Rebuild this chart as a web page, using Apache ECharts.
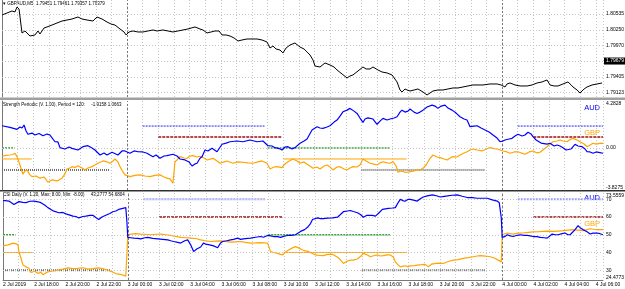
<!DOCTYPE html>
<html><head><meta charset="utf-8">
<script src="https://cdn.jsdelivr.net/npm/echarts@6/dist/echarts.min.js"></script>
<style>html,body{margin:0;padding:0;background:#fff}#c{width:625px;height:289px}</style>
</head><body><div id="c"></div>
<script>
// ---------- DATA ----------
const timeLabels = ['2 Jul 2019','2 Jul 18:00','2 Jul 20:00','2 Jul 22:00','3 Jul 00:00','3 Jul 02:00','3 Jul 04:00','3 Jul 06:00','3 Jul 08:00','3 Jul 10:00','3 Jul 12:00','3 Jul 14:00','3 Jul 16:00','3 Jul 18:00','3 Jul 20:00','3 Jul 22:00','4 Jul 00:00','4 Jul 02:00','4 Jul 04:00','4 Jul 06:00'];
const daySeparators = [8, 32];
const priceTicks = [1.80535, 1.80250, 1.79970, 1.79690, 1.79405, 1.79123];
const priceTickLabels = ['1.80535','1.80250','1.79970','','1.79405','1.79123'];
const bidPrice = 1.79690;
const bidLabel = '1.79679';
const strengthTicks = [4.2828, 0, -3.8275];
const strengthTickLabels = ['4.2828','0.00','-3.8275'];
const csiTicks = [73.5559, 70, 60, 50, 40, 30, 24.4773];
const csiTickLabels = ['73.5559','70','60','50','40','30','24.4773'];
const levelValsStrength = [2, 1, 0, -1, -2];
const levelValsCsi = [70, 60, 50, 40, 30];
const levelSegments = [[0,0.8,2],[0,1.9,3],[0,6.9,4],[9,16.8,0],[10,17.9,1],[17,24.8,2],[18,25.9,3],[23,30.9,4],[33,38.46,0],[34,38.46,1]];

const price = [[0,1.80517],[0.32,1.80553],[0.64,1.80589],[0.83,1.80571],[0.96,1.80661],[1.09,1.80625],[1.28,1.80194],[1.47,1.80230],[1.79,1.80140],[2.11,1.80158],[2.30,1.80230],[2.43,1.80176],[2.69,1.80284],[2.88,1.80302],[3.20,1.80337],[3.52,1.80373],[3.84,1.80409],[4.16,1.80427],[4.48,1.80445],[4.86,1.80481],[5.12,1.80445],[5.44,1.80427],[5.82,1.80409],[6.08,1.80481],[6.40,1.80445],[6.72,1.80391],[6.98,1.80355],[7.23,1.80337],[7.55,1.80266],[7.81,1.80212],[7.94,1.80158],[8.13,1.80212],[8.38,1.80230],[8.70,1.80212],[9.02,1.80212],[9.34,1.80230],[9.66,1.80248],[9.92,1.80230],[10.30,1.80248],[10.62,1.80230],[10.94,1.80212],[11.26,1.80230],[11.58,1.80248],[11.90,1.80266],[12.35,1.80302],[12.67,1.80266],[12.86,1.80248],[13.12,1.80194],[13.38,1.80212],[13.63,1.80230],[13.89,1.80230],[14.08,1.80158],[14.34,1.80158],[14.59,1.80140],[14.85,1.80104],[15.10,1.80050],[15.36,1.80068],[15.68,1.80086],[16.00,1.80086],[16.32,1.80086],[16.64,1.80068],[16.96,1.80032],[17.15,1.79924],[17.34,1.79960],[17.54,1.79906],[17.79,1.79888],[17.98,1.79835],[18.18,1.79924],[18.43,1.79978],[18.75,1.80014],[19.07,1.79942],[19.33,1.79906],[19.52,1.79853],[19.71,1.79799],[19.90,1.79709],[20.03,1.79601],[20.35,1.79583],[20.67,1.79655],[20.99,1.79619],[21.25,1.79583],[21.44,1.79529],[21.76,1.79457],[22.08,1.79386],[22.27,1.79422],[22.46,1.79440],[22.78,1.79511],[23.10,1.79583],[23.30,1.79547],[23.55,1.79547],[23.74,1.79583],[24.06,1.79529],[24.32,1.79493],[24.64,1.79476],[24.96,1.79440],[25.28,1.79314],[25.47,1.79170],[25.60,1.79134],[25.79,1.79188],[25.92,1.79170],[26.11,1.79152],[26.37,1.79170],[26.62,1.79188],[26.94,1.79134],[27.20,1.79080],[27.39,1.79116],[27.58,1.79152],[27.90,1.79170],[28.22,1.79170],[28.54,1.79188],[28.86,1.79206],[29.18,1.79206],[29.50,1.79224],[29.82,1.79242],[30.14,1.79260],[30.46,1.79260],[30.78,1.79260],[31.23,1.79278],[31.68,1.79278],[31.94,1.79260],[32.19,1.79224],[32.32,1.79278],[32.51,1.79296],[32.83,1.79260],[33.15,1.79242],[33.60,1.79242],[33.92,1.79260],[34.24,1.79296],[34.56,1.79314],[34.88,1.79350],[35.07,1.79260],[35.33,1.79242],[35.58,1.79242],[35.90,1.79278],[36.22,1.79314],[36.42,1.79260],[36.54,1.79224],[36.80,1.79170],[36.99,1.79116],[37.25,1.79188],[37.44,1.79224],[37.76,1.79260],[38.08,1.79278],[38.40,1.79296]];

const strengthAUD = [[0,2.03],[0.51,1.88],[0.96,1.70],[1.15,1.91],[1.28,1.82],[1.41,2.09],[1.54,1.55],[1.66,1.25],[1.92,1.36],[2.11,1.18],[2.37,1.32],[2.62,1.12],[2.88,1.27],[3.07,1.18],[3.39,0.57],[3.58,0.55],[3.71,0.03],[4.03,-0.09],[4.29,0.09],[4.48,-0.03],[4.86,-0.18],[5.18,0.12],[5.50,0.21],[5.76,0.00],[5.95,-0.18],[6.27,-0.64],[6.53,-0.45],[6.72,-0.64],[7.04,-0.39],[7.42,-0.64],[7.68,-0.27],[7.87,-0.27],[8.19,-0.48],[8.45,-0.27],[8.70,-0.34],[9.02,-0.36],[9.28,-0.48],[9.66,-0.79],[9.86,-0.64],[10.11,-0.94],[10.37,-0.73],[10.56,-0.70],[10.94,-0.57],[11.20,-0.73],[11.39,-1.00],[11.71,-1.09],[11.97,-1.27],[12.16,-1.64],[12.35,-1.45],[12.48,-1.39],[12.67,-0.94],[12.80,-0.79],[12.99,-0.18],[13.18,-0.27],[13.44,-0.03],[13.76,-0.34],[14.08,0.34],[14.34,0.45],[14.59,0.57],[15.04,0.64],[15.42,0.57],[15.87,0.73],[16.32,0.57],[16.70,0.64],[17.02,0.21],[17.28,0.18],[17.47,0.03],[17.73,-0.05],[17.92,-0.18],[18.11,0.09],[18.30,0.12],[18.56,-0.09],[18.75,0.03],[19.07,0.43],[19.33,0.64],[19.52,0.82],[19.84,1.64],[20.16,1.94],[20.35,1.82],[20.54,1.79],[20.80,1.91],[20.99,2.03],[21.25,2.36],[21.44,2.55],[21.63,2.91],[21.82,3.30],[22.08,3.45],[22.27,3.61],[22.53,3.36],[22.72,3.15],[22.91,2.73],[23.10,2.34],[23.23,2.64],[23.42,2.75],[23.74,2.64],[24.00,2.15],[24.19,2.45],[24.38,2.70],[24.64,2.55],[24.83,2.64],[25.09,2.73],[25.28,2.85],[25.47,3.27],[25.60,3.45],[25.79,3.27],[25.98,3.36],[26.11,3.55],[26.37,3.27],[26.56,3.15],[26.75,3.27],[26.94,3.45],[27.20,3.73],[27.52,3.91],[27.71,3.82],[27.90,3.61],[28.10,3.82],[28.35,3.91],[28.54,3.64],[28.80,3.45],[29.06,3.18],[29.31,2.85],[29.57,2.64],[29.76,2.55],[29.95,1.94],[30.21,2.00],[30.40,2.03],[30.66,1.82],[30.91,1.64],[31.17,1.45],[31.42,1.18],[31.68,0.91],[31.87,0.57],[32.06,0.64],[32.19,0.73],[32.45,0.82],[32.64,0.88],[32.83,1.09],[33.02,1.25],[33.28,1.09],[33.47,1.18],[33.66,1.43],[33.86,1.27],[33.98,1.03],[34.18,0.73],[34.30,0.57],[34.50,0.45],[34.62,0.27],[34.88,0.36],[35.07,0.43],[35.33,0.18],[35.52,0.27],[35.71,0.18],[35.90,0.03],[36.10,-0.18],[36.22,-0.34],[36.42,-0.09],[36.67,0.34],[36.86,0.18],[37.12,0.12],[37.31,-0.09],[37.44,-0.34],[37.63,-0.36],[37.82,-0.48],[38.02,-0.36],[38.14,-0.34],[38.34,-0.45],[38.46,-0.48]];

const strengthGBP = [[0,-0.73],[0.26,-0.68],[0.51,-0.64],[0.70,-0.59],[0.83,-0.48],[0.96,-0.79],[1.15,-1.55],[1.34,-2.39],[1.47,-2.09],[1.60,-2.00],[1.79,-2.45],[1.92,-2.61],[2.18,-2.55],[2.43,-2.75],[2.69,-2.64],[2.94,-3.12],[3.20,-2.91],[3.52,-3.00],[3.84,-2.75],[4.03,-2.36],[4.16,-1.91],[4.35,-1.82],[4.48,-1.70],[4.67,-1.77],[4.86,-1.61],[5.12,-1.82],[5.31,-2.00],[5.50,-1.82],[5.76,-1.70],[5.95,-1.55],[6.14,-1.39],[6.46,-1.18],[6.72,-1.27],[6.91,-1.39],[7.10,-1.18],[7.23,-1.00],[7.42,-1.27],[7.55,-1.70],[7.74,-2.18],[7.87,-2.45],[8.19,-2.61],[8.51,-2.50],[8.83,-2.45],[9.15,-2.55],[9.47,-2.61],[9.79,-2.50],[10.11,-2.45],[10.37,-2.64],[10.56,-2.75],[10.75,-2.82],[10.94,-3.21],[11.07,-1.25],[11.20,-1.09],[11.39,-0.79],[11.65,-0.91],[11.84,-0.94],[12.03,-0.73],[12.22,-0.70],[12.48,-0.82],[12.67,-0.75],[12.93,-0.91],[13.12,-1.09],[13.50,-0.94],[13.76,-1.18],[13.95,-1.39],[14.21,-1.27],[14.40,-1.18],[14.78,-1.39],[15.10,-1.27],[15.42,-1.30],[15.74,-1.36],[16.06,-1.39],[16.38,-1.27],[16.64,-1.18],[16.96,-1.39],[17.15,-1.91],[17.41,-1.73],[17.60,-1.70],[17.92,-1.79],[18.11,-1.45],[18.30,-1.25],[18.62,-1.00],[18.88,-1.18],[19.07,-1.39],[19.33,-1.27],[19.52,-1.48],[19.71,-1.64],[19.90,-1.85],[20.16,-1.73],[20.35,-1.91],[20.61,-1.64],[20.80,-1.55],[20.99,-1.73],[21.18,-2.00],[21.44,-1.73],[21.63,-1.70],[21.89,-1.91],[22.08,-2.00],[22.27,-1.82],[22.46,-1.70],[22.72,-1.73],[22.91,-1.55],[23.10,-1.00],[23.30,-1.18],[23.55,-1.39],[23.74,-1.45],[24.00,-1.55],[24.19,-1.36],[24.38,-1.25],[24.64,-1.36],[24.83,-1.39],[25.02,-1.25],[25.22,-1.64],[25.34,-2.21],[25.54,-2.09],[25.66,-2.15],[25.86,-2.23],[26.11,-2.15],[26.37,-2.09],[26.56,-2.00],[26.75,-2.00],[26.94,-1.85],[27.14,-1.55],[27.39,-0.94],[27.58,-0.64],[27.84,-0.82],[28.03,-0.88],[28.29,-1.00],[28.48,-1.09],[28.67,-0.91],[28.86,-0.79],[29.12,-0.82],[29.31,-0.64],[29.57,-0.45],[29.76,-0.34],[29.95,-0.18],[30.14,-0.09],[30.40,-0.18],[30.72,-0.27],[30.98,-0.09],[31.23,0.03],[31.49,-0.05],[31.68,-0.09],[31.87,-0.18],[32.06,-0.27],[32.32,-0.36],[32.51,-0.48],[32.77,-0.36],[33.02,-0.34],[33.22,-0.45],[33.47,-0.57],[33.73,-0.36],[33.98,-0.27],[34.24,-0.45],[34.43,-0.39],[34.69,-0.09],[34.88,0.12],[35.07,0.36],[35.26,0.57],[35.52,0.64],[35.71,0.73],[35.90,0.64],[36.16,0.57],[36.35,0.77],[36.54,0.88],[36.80,0.73],[36.99,0.57],[37.25,0.36],[37.44,0.12],[37.63,0.27],[37.82,0.43],[38.02,0.36],[38.14,0.52],[38.34,0.45],[38.46,0.43]];

const csiAUD = [[0,69.4],[0.38,69.0],[0.70,67.1],[1.02,68.7],[1.28,68.3],[1.47,68.1],[1.73,68.9],[1.98,69.0],[2.24,68.6],[2.43,68.1],[2.69,66.6],[2.88,65.3],[3.07,64.3],[3.26,63.3],[3.58,62.4],[3.84,62.6],[4.03,61.8],[4.29,61.1],[4.48,60.5],[4.67,60.3],[4.86,59.5],[5.12,60.3],[5.31,60.5],[5.57,60.9],[5.76,61.0],[5.95,59.7],[6.14,58.6],[6.34,60.0],[6.59,61.0],[6.85,62.0],[7.04,63.0],[7.23,63.4],[7.42,64.3],[7.68,64.9],[7.87,65.3],[7.94,57.6],[8.00,48.5],[8.19,48.3],[8.38,48.1],[8.64,48.0],[8.83,47.7],[9.09,48.3],[9.28,48.5],[9.60,48.0],[9.92,47.7],[10.24,47.4],[10.56,47.1],[10.75,46.6],[10.94,46.2],[11.20,45.7],[11.39,45.3],[11.65,46.6],[11.84,47.1],[12.03,44.3],[12.22,40.5],[12.42,42.0],[12.67,43.1],[12.86,45.4],[12.99,44.7],[13.25,44.3],[13.50,43.7],[13.76,42.7],[13.95,45.4],[14.08,46.2],[14.34,46.6],[14.59,47.1],[14.78,47.4],[15.04,48.1],[15.23,47.4],[15.42,47.7],[15.68,48.0],[15.87,48.1],[16.19,48.6],[16.51,49.0],[16.70,48.6],[16.96,49.6],[17.15,49.4],[17.34,49.0],[17.60,48.9],[17.79,48.5],[17.98,49.1],[18.24,49.6],[18.50,49.7],[18.75,50.0],[19.07,51.9],[19.33,52.9],[19.52,54.2],[19.71,56.3],[19.84,58.6],[20.16,59.5],[20.35,59.1],[20.54,59.1],[20.80,59.4],[21.12,59.5],[21.44,59.9],[21.63,61.4],[21.82,63.0],[22.08,63.4],[22.27,63.7],[22.46,63.1],[22.72,62.4],[22.91,61.4],[23.10,59.9],[23.30,60.9],[23.42,61.4],[23.68,60.9],[23.87,60.5],[24.06,62.0],[24.32,64.3],[24.51,64.6],[24.70,64.9],[24.96,65.1],[25.15,65.3],[25.34,68.3],[25.47,70.0],[25.66,69.1],[25.79,69.0],[25.98,70.0],[26.11,70.0],[26.37,69.4],[26.56,69.0],[26.75,70.3],[26.94,71.3],[27.20,71.9],[27.52,72.5],[27.78,72.0],[28.03,71.3],[28.29,71.7],[28.48,71.9],[28.80,72.3],[29.12,72.5],[29.44,71.7],[29.76,71.0],[30.08,70.9],[30.40,70.6],[30.72,70.6],[31.04,70.6],[31.36,69.7],[31.68,69.0],[31.81,68.1],[31.94,59.5],[32.00,48.5],[32.19,49.1],[32.32,50.0],[32.51,49.4],[32.70,49.0],[32.96,49.7],[33.15,50.0],[33.41,49.7],[33.60,49.6],[33.79,49.4],[33.98,49.0],[34.24,48.9],[34.43,48.5],[34.69,48.3],[34.88,48.1],[35.07,49.4],[35.20,50.4],[35.39,50.0],[35.58,50.0],[35.84,50.6],[36.03,51.0],[36.22,50.0],[36.35,50.0],[36.54,51.7],[36.67,52.9],[36.86,55.1],[36.99,54.0],[37.18,52.9],[37.44,51.7],[37.63,50.4],[37.82,50.9],[38.08,51.0],[38.27,50.6],[38.46,50.0]];

const csiGBP = [[0,43.7],[0.32,44.3],[0.64,45.3],[0.83,44.9],[0.96,44.3],[1.02,40.5],[1.15,36.9],[1.28,32.9],[1.47,31.9],[1.66,31.1],[1.79,28.7],[2.05,29.4],[2.24,28.1],[2.43,28.9],[2.56,27.5],[2.82,28.9],[3.07,29.4],[3.33,29.7],[3.52,30.0],[3.84,30.6],[4.16,31.3],[4.48,30.9],[4.80,31.0],[5.12,31.4],[5.44,30.6],[5.76,30.9],[6.08,31.3],[6.40,30.9],[6.72,30.0],[6.98,29.1],[7.23,28.1],[7.49,27.7],[7.74,27.1],[7.87,26.7],[7.94,38.6],[8.00,50.0],[8.19,50.4],[8.51,50.6],[8.83,50.4],[9.15,50.3],[9.47,50.0],[9.79,50.3],[10.11,50.4],[10.43,50.0],[10.75,49.6],[11.07,49.1],[11.39,48.5],[11.71,48.3],[12.03,48.1],[12.35,47.9],[12.67,47.1],[12.99,46.6],[13.31,46.2],[13.63,46.4],[13.95,46.6],[14.27,46.3],[14.59,45.8],[14.91,46.0],[15.23,46.2],[15.55,45.7],[15.87,45.3],[16.19,45.4],[16.51,45.6],[16.77,45.4],[16.96,45.3],[17.15,40.5],[17.34,40.0],[17.60,39.5],[17.79,38.9],[17.92,38.6],[18.11,40.3],[18.30,41.4],[18.56,42.6],[18.75,43.3],[18.94,42.6],[19.20,41.4],[19.39,40.9],[19.58,40.5],[19.84,39.4],[20.03,38.6],[20.29,38.3],[20.54,38.2],[20.80,38.9],[21.12,39.0],[21.31,38.0],[21.50,37.0],[21.70,35.1],[21.82,33.8],[22.02,34.9],[22.27,35.7],[22.46,35.7],[22.72,36.3],[22.91,37.7],[23.10,39.5],[23.36,38.6],[23.55,37.6],[23.81,38.3],[24.00,38.6],[24.19,38.0],[24.38,38.2],[24.64,38.6],[24.83,38.6],[25.02,37.4],[25.15,34.7],[25.34,32.9],[25.47,31.9],[25.66,32.3],[25.79,32.5],[25.98,31.9],[26.11,32.5],[26.37,32.6],[26.56,32.9],[26.82,33.1],[27.07,33.3],[27.26,31.9],[27.46,33.4],[27.58,34.4],[27.90,34.0],[28.22,33.8],[28.54,34.9],[28.86,35.7],[29.18,36.0],[29.50,36.7],[29.82,37.1],[30.14,37.6],[30.40,38.0],[30.59,38.2],[30.91,38.0],[31.23,37.6],[31.49,36.9],[31.74,35.7],[31.94,34.7],[32.00,50.0],[32.19,50.6],[32.32,51.0],[32.51,50.6],[32.70,50.4],[33.02,50.9],[33.34,51.0],[33.66,51.3],[33.98,51.6],[34.30,51.7],[34.62,51.9],[34.94,52.0],[35.26,51.9],[35.58,52.1],[35.90,52.3],[36.22,52.6],[36.54,52.9],[36.86,52.6],[37.18,52.3],[37.44,52.9],[37.63,53.4],[37.89,53.1],[38.08,52.9],[38.27,52.9],[38.46,52.9]];

const headers = ['\u25BE GBPAUD,M5  1.79451 1.79461 1.79357 1.79379', 'Strength Periodic (V. 1.00), Period = 120:     -1.9158 1.0663', 'CSI Daily (V. 1.20, Max: 8.00, Min: -8.00)     43.2777 54.6804'];
const currencyNames = ['AUD', 'GBP'];

// ---------- CHART ----------
const FONT = 'Liberation Sans, Arial, sans-serif';
const chart = echarts.init(document.getElementById('c'), null, {renderer: 'canvas'});
const XMIN = 0, XMAX = 38.46;
const grids = [
  {left: 2, right: 22, top: 0, height: 97},
  {left: 2, right: 22, top: 101, height: 89},
  {left: 2, right: 22, top: 193, height: 87}
];
const gridLine = {color: '#c6c6c6', width: 1, type: [1, 2]};
const xAxes = grids.map((g, i) => ({
  type: 'value', gridIndex: i, min: XMIN, max: XMAX, interval: 1,
  axisLine: {show: i === 2, lineStyle: {color: '#777'}},
  axisTick: {show: false},
  splitLine: {show: true, lineStyle: gridLine},
  axisLabel: i === 2 ? {
    show: true, fontSize: 5, color: '#000', align: 'left', margin: 2, fontFamily: FONT,
    formatter: v => (Math.round(v) % 2 === 0 ? (timeLabels[Math.round(v) / 2] || '') : '')
  } : {show: false}
}));
const yRanges = [
  [priceTicks[5] - (97 - 92.6) * 0.0001796, priceTicks[0] + 14 * 0.0001796],
  [strengthTicks[2], strengthTicks[0]],
  [csiTicks[6], csiTicks[0]]
];
const yAxes = yRanges.map((r, i) => ({
  type: 'value', gridIndex: i, min: r[0], max: r[1], position: 'right',
  axisLine: {show: true, lineStyle: {color: '#777'}},
  axisTick: {show: false}, splitLine: {show: false}, axisLabel: {show: false}
}));

const CLEAR = 'rgba(0,0,0,0)';
function tickMarkLine(values, labels, edgeFirstLast) {
  return values.map((v, k) => {
    const isEdge = edgeFirstLast && (k === 0 || k === values.length - 1);
    return {
      yAxis: v,
      lineStyle: {color: isEdge ? CLEAR : '#c6c6c6', width: 1, type: [1, 2]},
      label: {
        show: labels[k] !== '', formatter: labels[k], position: 'end', distance: 3,
        fontSize: 5, color: '#000', fontFamily: FONT,
        verticalAlign: isEdge ? (k === 0 ? 'top' : 'bottom') : 'middle'
      }
    };
  });
}
const daySepLines = daySeparators.map(d => ({xAxis: d, lineStyle: {color: '#777', width: 1, type: [2, 2]}, label: {show: false}}));

const series = [];
// price
series.push({
  type: 'line', xAxisIndex: 0, yAxisIndex: 0, data: price, symbol: 'none',
  lineStyle: {color: '#000', width: 1}, silent: true, z: 5,
  markLine: {symbol: 'none', silent: true, animation: false, precision: 6,
    data: tickMarkLine(priceTicks, priceTickLabels, false).concat(daySepLines).concat([{
      yAxis: bidPrice, lineStyle: {color: CLEAR},
      label: {show: true, formatter: bidLabel, position: 'end', distance: 1, fontSize: 5, color: '#fff', backgroundColor: '#000', padding: [1, 2, 1, 2], fontFamily: FONT}
    }])}
});
// level segments
const levelStyle = (k, pane) => [
  pane === 1 ? {color: '#2020ff', width: 1, type: [2, 1]} : {color: '#9c9cff', width: 2, type: [2, 1]},
  {color: '#a01010', width: 1.5, type: [3, 1]},
  {color: '#3aa43a', width: 1.5, type: [2, 1]},
  {color: '#ffa500', width: 1},
  {color: '#6e6e6e', width: 2, type: [1, 1]}
][k];
levelSegments.forEach(([s, e, k]) => {
  [1, 2].forEach(p => {
    const v = p === 1 ? levelValsStrength[k] : levelValsCsi[k];
    series.push({type: 'line', xAxisIndex: p, yAxisIndex: p, data: [[s, v], [e, v]], symbol: 'none', silent: true, z: 2, lineStyle: levelStyle(k, p)});
  });
});
[[strengthAUD, strengthGBP, strengthTicks, strengthTickLabels, 1], [csiAUD, csiGBP, csiTicks, csiTickLabels, 2]].forEach(([a, b, tv, tl, p]) => {
  series.push({
    type: 'line', xAxisIndex: p, yAxisIndex: p, data: a, symbol: 'none', silent: true, z: 5,
    lineStyle: {color: '#0000ff', width: 1.2},
    markLine: {symbol: 'none', silent: true, animation: false, precision: 6,
      data: tickMarkLine(tv, tl, true).concat(daySepLines)}
  });
  series.push({
    type: 'line', xAxisIndex: p, yAxisIndex: p, data: b, symbol: 'none', silent: true, z: 4,
    lineStyle: {color: '#ffa500', width: 1.2}
  });
});

const graphics = [
  {type: 'rect', shape: {x: 0, y: 97.5, width: 625, height: 2.5}, style: {fill: '#a0a0a0'}, silent: true},
  {type: 'rect', shape: {x: 0, y: 190, width: 625, height: 1.5}, style: {fill: '#303030'}, silent: true},
  {type: 'text', left: 3, top: 1, style: {text: headers[0], fontSize: 4.5, fill: '#000', fontFamily: FONT}},
  {type: 'text', left: 3, top: 102, style: {text: headers[1], fontSize: 4.5, fill: '#000', fontFamily: FONT}},
  {type: 'text', left: 3, top: 192, style: {text: headers[2], fontSize: 4.5, fill: '#000', fontFamily: FONT}},
  {type: 'text', right: 25, top: 104, style: {text: currencyNames[0], fontSize: 7.5, fill: '#0000ff', fontFamily: FONT}},
  {type: 'text', right: 25, top: 129, style: {text: currencyNames[1], fontSize: 7.5, fill: '#ffa500', fontFamily: FONT}},
  {type: 'text', right: 25, top: 194, style: {text: currencyNames[0], fontSize: 7.5, fill: '#0000ff', fontFamily: FONT}},
  {type: 'text', right: 25, top: 220, style: {text: currencyNames[1], fontSize: 7.5, fill: '#ffa500', fontFamily: FONT}}
];

chart.setOption({
  animation: false, backgroundColor: '#fff',
  grid: grids, xAxis: xAxes, yAxis: yAxes, series: series, graphic: graphics
});
</script></body></html>
